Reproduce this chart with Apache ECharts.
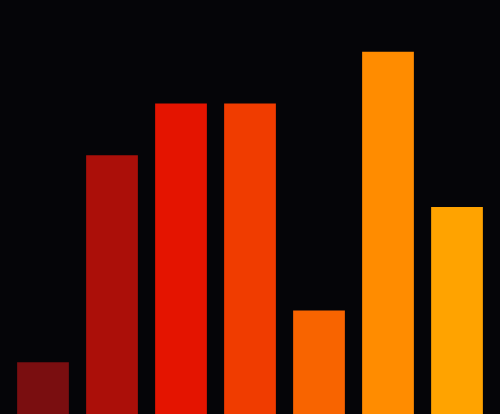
<!DOCTYPE html>
<html><head><meta charset="utf-8">
<script src="https://cdn.jsdelivr.net/npm/echarts@6/dist/echarts.min.js"></script>
<style>html,body{margin:0;padding:0;background:#050508;}#c{width:500px;height:414px;}</style>
</head><body><div id="c"></div>
<script>
const categories = ['A','B','C','D','E','F','G'];
const values = [1, 5, 6, 6, 2, 7, 4];
const colors = ['#7a0e10','#ab0f09','#e41400','#f03c00','#f86400','#ff8c00','#ffa300'];
const chart = echarts.init(document.getElementById('c'));
chart.setOption({
  backgroundColor: '#050508',
  animation: false,
  grid: {left: 8.5, right: 8.5, top: 0, bottom: 0},
  xAxis: {type: 'category', data: categories, show: false},
  yAxis: {type: 'value', min: 0, max: 8, show: false},
  series: [{
    type: 'bar',
    barCategoryGap: '25%',
    data: values.map((v, i) => ({value: v, itemStyle: {color: colors[i]}}))
  }]
});
</script></body></html>
